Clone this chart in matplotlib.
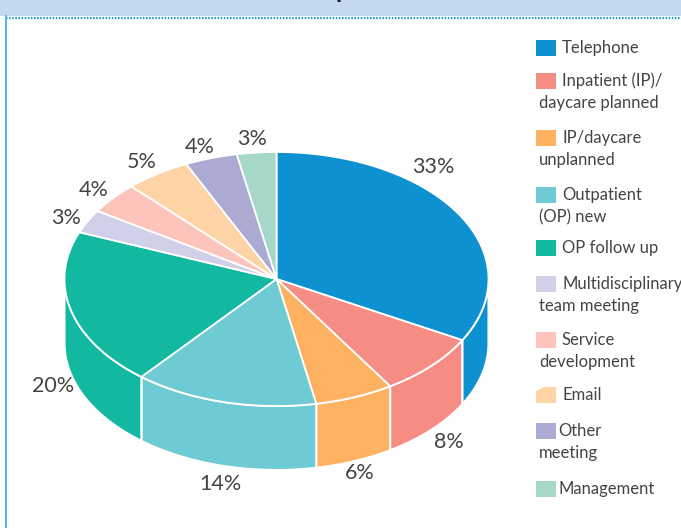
import numpy as np
import matplotlib
matplotlib.use('Agg')
import matplotlib.pyplot as plt
import matplotlib.patches as patches

plt.rcParams['font.family'] = ['Lato', 'DejaVu Sans']

# Data
categories = ['Telephone', 'Inpatient (IP)/\ndaycare planned', 'IP/daycare\nunplanned',
              'Outpatient\n(OP) new', 'OP follow up', 'Multidisciplinary\nteam meeting',
              'Service\ndevelopment', 'Email', 'Other\nmeeting', 'Management']
values = [33, 8, 6, 14, 20, 3, 4, 5, 4, 3]
colors = ['#0e91d0', '#f68d85', '#feb161', '#6ecbd4', '#12b9a0',
          '#d0d0e8', '#fcc4bb', '#fed3a5', '#aaaad2', '#a5d8c8']

# pie geometry, in pixels
cx, cy = 276.5, 279
rx, ry = 212, 127
depth = 64

# percent label centres, in pixels
label_pos = [(433, 167), (449, 442), (360, 473), (220, 484), (53, 386),
             (66, 218), (94, 190), (142, 162), (200, 147), (252, 139)]

# legend: swatch top, x of first text line
swatch_top = [40, 73, 130, 187, 240, 276, 332, 387, 423, 481]
text_x = [562, 562, 562, 562, 562, 562, 562, 562, 558, 558]

fig = plt.figure(figsize=(6.81, 5.28), dpi=100, facecolor='white')
ax = fig.add_axes([0, 0, 1, 1])
ax.set_xlim(0, 681)
ax.set_ylim(528, 0)
ax.axis('off')

# Header band and frame
ax.add_patch(patches.Rectangle((0, 0), 681, 16, facecolor='#c5daf0', edgecolor='none'))
ax.plot([6, 681], [17.5, 17.5], color='#1a9ad6', lw=1.6, ls=(0, (0.7, 0.7)))
ax.plot([5.5, 5.5], [16, 528], color='#55b8e6', lw=1.5)
ax.text(343, -1.5, 'p', fontsize=18, fontweight='bold', color='#222222', ha='center', va='baseline', clip_on=False)


def ellipse_pts(a0, a1, n=80):
    # angles are clockwise from the top
    t = np.radians(np.linspace(a0, a1, n))
    return cx + rx * np.sin(t), cy - ry * np.cos(t)


# Slices
edges = np.cumsum([0] + values) * 3.6
for i in range(len(values)):
    a0, a1 = edges[i], edges[i + 1]
    # side wall, only the front half of the rim shows
    s0, s1 = max(a0, 90), min(a1, 270)
    if s1 > s0:
        x, y = ellipse_pts(s0, s1)
        xs = np.concatenate([x, x[::-1]])
        ys = np.concatenate([y, y[::-1] + depth])
        ax.fill(xs, ys, facecolor=colors[i], edgecolor='white', lw=1.5, joinstyle='round')
for i in range(len(values)):
    x, y = ellipse_pts(edges[i], edges[i + 1])
    xs = np.concatenate([[cx], x])
    ys = np.concatenate([[cy], y])
    ax.fill(xs, ys, facecolor=colors[i], edgecolor='white', lw=1.3, joinstyle='round')

# Percent labels
for v, (lx, ly) in zip(values, label_pos):
    ax.text(lx, ly, f'{v}%', fontsize=15.5, color='#444444', ha='center', va='center')

# Legend
for i, name in enumerate(categories):
    top = swatch_top[i]
    if name == 'Email':
        # this swatch has its corner cut in the original
        ax.fill([536, 536, 544, 556, 556], [top + 16, top + 4, top, top, top + 16],
                facecolor=colors[i], edgecolor='none')
    else:
        ax.add_patch(patches.Rectangle((536, top), 20, 16, facecolor=colors[i], edgecolor='none'))
    lines = name.split('\n')
    ax.text(text_x[i], top + 8, lines[0], fontsize=12, color='#444444', ha='left', va='center')
    if len(lines) > 1:
        ax.text(539, top + 30, lines[1], fontsize=12, color='#444444', ha='left', va='center')

fig.savefig('out.png', dpi=100)
print('done')
